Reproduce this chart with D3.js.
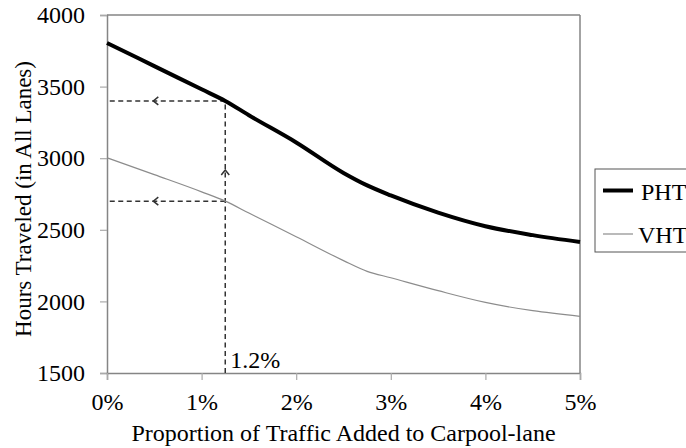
<!DOCTYPE html>
<html><head><meta charset="utf-8">
<script src="https://cdn.jsdelivr.net/npm/d3@7"></script>
</head><body style="margin:0;background:#fff">
<svg id="c" width="686" height="448" style="display:block" font-family="Liberation Serif"></svg>
<script>
const xValues = [0, 0.5, 1, 1.25, 1.5, 2, 2.5, 2.75, 3, 3.5, 4, 4.5, 5];
const phtValues = [3805, 3643, 3481, 3400, 3300, 3110, 2897, 2810, 2740, 2620, 2525, 2463, 2415];
const vhtValues = [3003, 2885, 2765, 2700, 2617, 2452, 2285, 2210, 2165, 2075, 1993, 1935, 1896];
const seriesNames = ["PHT", "VHT"];
const xTicks = [0, 1, 2, 3, 4, 5];
const yTicks = [1500, 2000, 2500, 3000, 3500, 4000];
const markerX = 1.25, markerLabel = "1.2%";
const markerPHT = 3400, markerVHT = 2700;

const FONT = "Liberation Serif";
const svg = d3.select("#c");
const L = 107, R = 580, T = 15, B = 373;
const FS = 24;
const x = d3.scaleLinear().domain([0, 5]).range([L, R]);
const y = d3.scaleLinear().domain([1500, 4000]).range([B, T]);
const axisCol = "#858585";

svg.append("line").attr("x1", L).attr("x2", R).attr("y1", T).attr("y2", T).attr("stroke", axisCol).attr("stroke-width", 1.5);
svg.append("line").attr("x1", R).attr("x2", R).attr("y1", T).attr("y2", B).attr("stroke", axisCol).attr("stroke-width", 1.5);

const yAxis = svg.append("g").attr("transform", `translate(${L},0)`)
  .call(d3.axisLeft(y).tickValues(yTicks).tickSize(7).tickPadding(15).tickFormat(d3.format("d")));
const xAxis = svg.append("g").attr("transform", `translate(0,${B})`)
  .call(d3.axisBottom(x).tickValues(xTicks).tickSize(7).tickPadding(13).tickFormat(d => d + "%"));
[yAxis, xAxis].forEach(g => {
  g.attr("font-family", FONT).attr("font-size", FS);
  g.select(".domain").attr("stroke", axisCol).attr("stroke-width", 1.5);
  g.selectAll(".tick line").attr("stroke", "#aaa").attr("stroke-width", 1.2);
  g.selectAll("text").attr("font-family", FONT).attr("font-size", FS).attr("fill", "#000");
});

const dash = "5,3.5", dcol = "#333";
const mk = svg.append("g").attr("stroke", dcol).attr("stroke-width", 1.5).attr("fill", "none");
mk.append("line").attr("x1", x(markerX)).attr("x2", x(markerX)).attr("y1", B).attr("y2", y(markerPHT)).attr("stroke-dasharray", dash);
mk.append("line").attr("x1", x(markerX)).attr("x2", L).attr("y1", y(markerPHT)).attr("y2", y(markerPHT)).attr("stroke-dasharray", dash);
mk.append("line").attr("x1", x(markerX)).attr("x2", L).attr("y1", y(markerVHT)).attr("y2", y(markerVHT)).attr("stroke-dasharray", dash);
[markerPHT, markerVHT].forEach(v => {
  const ax = x(0.5) - 1, ay = y(v);
  mk.append("path").attr("d", `M${ax + 5},${ay - 4}L${ax},${ay}L${ax + 5},${ay + 4}`);
});
{
  const ax = x(markerX), ay = 170;
  mk.append("path").attr("d", `M${ax - 4},${ay + 5}L${ax},${ay}L${ax + 4},${ay + 5}`);
}
function txt(sel, fs) { return sel.attr("font-family", FONT).attr("font-size", fs || FS).attr("fill", "#000"); }
txt(svg.append("text")).attr("x", x(markerX) + 5).attr("y", 368).text(markerLabel);

const line = d3.line().x((d, i) => x(xValues[i])).y(d => y(d)).curve(d3.curveMonotoneX);
svg.append("path").attr("d", line(vhtValues)).attr("fill", "none").attr("stroke", "#8c8c8c").attr("stroke-width", 1.2);
svg.append("path").attr("d", line(phtValues)).attr("fill", "none").attr("stroke", "#000").attr("stroke-width", 4);

const lg = svg.append("g");
lg.append("rect").attr("x", 595).attr("y", 169).attr("width", 100).attr("height", 83).attr("fill", "#fff").attr("stroke", "#555").attr("stroke-width", 1);
lg.append("line").attr("x1", 603).attr("x2", 633).attr("y1", 190.5).attr("y2", 190.5).attr("stroke", "#000").attr("stroke-width", 4);
lg.append("line").attr("x1", 603).attr("x2", 633).attr("y1", 234).attr("y2", 234).attr("stroke", "#8c8c8c").attr("stroke-width", 1.2);
txt(lg.append("text")).attr("x", 641).attr("y", 200).text(seriesNames[0]);
txt(lg.append("text")).attr("x", 638).attr("y", 243).text(seriesNames[1]);

txt(svg.append("text")).attr("x", (L + R) / 2).attr("y", 441).attr("text-anchor", "middle").text("Proportion of Traffic Added to Carpool-lane");
txt(svg.append("text"), 23).attr("transform", `translate(31,${(T + B) / 2 + 5}) rotate(-90)`).attr("text-anchor", "middle").text("Hours Traveled (in All Lanes)");
</script>
</body></html>
